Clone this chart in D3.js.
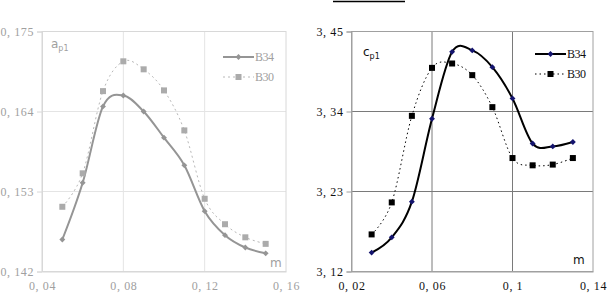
<!DOCTYPE html>
<html>
<head>
<meta charset="utf-8">
<script src="https://cdn.jsdelivr.net/npm/d3@7"></script>
<style>
  body { margin: 0; background: #fff; }
  svg { display: block; }
  .serif { font-family: "Liberation Serif", "DejaVu Serif", serif; }
  .sans { font-family: "DejaVu Sans", sans-serif; }
</style>
</head>
<body>
<script>
"use strict";

// m values shared by both panels
const mLeft = [0.05, 0.06, 0.07, 0.08, 0.09, 0.10, 0.11, 0.12, 0.13, 0.14, 0.15];
const mRight = [0.03, 0.04, 0.05, 0.06, 0.07, 0.08, 0.09, 0.10, 0.11, 0.12, 0.13];

// a_p1 (left panel)
const aB34 = [0.1464, 0.1542, 0.1647, 0.1662, 0.1640, 0.1604, 0.1566, 0.1503, 0.1470, 0.1453, 0.1445];
const aB30 = [0.1509, 0.1555, 0.1668, 0.1709, 0.1698, 0.1669, 0.1614, 0.1520, 0.1485, 0.1467, 0.1458];

// c_p1 (right panel)
const cB34 = [3.146, 3.167, 3.216, 3.330, 3.422, 3.424, 3.401, 3.358, 3.296, 3.292, 3.298];
const cB30 = [3.171, 3.215, 3.334, 3.400, 3.406, 3.390, 3.346, 3.276, 3.266, 3.267, 3.276];

const leftXTicks = [0.04, 0.08, 0.12, 0.16];
const leftYTicks = [0.142, 0.153, 0.164, 0.175];
const rightXTicks = [0.02, 0.06, 0.1, 0.14];
const rightYTicks = [3.12, 3.23, 3.34, 3.45];
const seriesNames = ["B34", "B30"];

const svg = d3.select("body").append("svg")
  .attr("width", 609)
  .attr("height", 296);

// the comma-decimal style used on the axes: "0, 175"
const commaFmt = (v) => String(+v.toFixed(3)).replace(".", ", ");

function drawPanel(opts) {
  const { x0, x1, y0, y1, xDomain, yDomain, xTicks, yTicks, xs, series, theme } = opts;

  const x = d3.scaleLinear().domain(xDomain).range([x0, x1]);
  const y = d3.scaleLinear().domain(yDomain).range([y1, y0]);
  const g = svg.append("g");

  // grid
  g.selectAll(".vgrid")
    .data(xTicks.slice(1, -1))
    .enter().append("line")
      .attr("x1", (d) => x(d)).attr("x2", (d) => x(d))
      .attr("y1", y0).attr("y2", y1)
      .attr("stroke", theme.grid).attr("stroke-width", 1);
  g.selectAll(".hgrid")
    .data(yTicks.slice(1, -1))
    .enter().append("line")
      .attr("x1", x0).attr("x2", x1)
      .attr("y1", (d) => y(d)).attr("y2", (d) => y(d))
      .attr("stroke", theme.grid).attr("stroke-width", 1);

  // frame
  g.append("rect")
    .attr("x", x0).attr("y", y0)
    .attr("width", x1 - x0).attr("height", y1 - y0)
    .attr("fill", "none")
    .attr("stroke", theme.frame);

  // axes, with the little outer ticks
  const yAxis = d3.axisLeft(y).tickValues(yTicks).tickFormat(commaFmt).tickSize(5).tickPadding(3);
  const xAxis = d3.axisBottom(x).tickValues(xTicks).tickFormat(commaFmt).tickSize(0).tickPadding(10);

  const ya = g.append("g").attr("transform", `translate(${x0},0)`).call(yAxis);
  const xa = g.append("g").attr("transform", `translate(0,${y1})`).call(xAxis);
  [ya, xa].forEach((a) => {
    a.attr("font-family", null).attr("font-size", null);
    a.select(".domain").attr("stroke", theme.frame);
    a.selectAll(".tick line").attr("stroke", theme.frame);
    a.selectAll("text")
      .attr("class", "serif")
      .attr("fill", theme.text)
      .attr("font-size", 12)
      .attr("letter-spacing", 0.6);
  });
  ya.selectAll("text").attr("dy", "0.35em");

  const line = d3.line()
    .x((d) => x(d[0]))
    .y((d) => y(d[1]))
    .curve(d3.curveCardinal.tension(0));

  series.forEach((s) => {
    const pts = xs.map((m, i) => [m, s.values[i]]);
    g.append("path")
      .datum(pts)
      .attr("d", line)
      .attr("fill", "none")
      .attr("stroke", s.stroke)
      .attr("stroke-width", s.width)
      .attr("stroke-dasharray", s.dash);

    drawMarkers(g, pts.map((p) => [x(p[0]), y(p[1])]), s);
  });

  // legend
  series.forEach((s, i) => {
    const ly = opts.legendY + i * 20;
    g.append("line")
      .attr("x1", opts.legendX).attr("x2", opts.legendX + 31)
      .attr("y1", ly).attr("y2", ly)
      .attr("stroke", s.stroke)
      .attr("stroke-width", s.width)
      .attr("stroke-dasharray", s.dash);
    drawMarkers(g, [[opts.legendX + 15.5, ly]], s);
    g.append("text")
      .attr("class", "serif")
      .attr("x", opts.legendX + 32).attr("y", ly)
      .attr("dy", "0.35em")
      .attr("fill", theme.text)
      .attr("font-size", 12)
      .attr("letter-spacing", -0.5)
      .text(s.name);
  });

  // axis labels inside the plot
  const lab = g.append("text")
    .attr("class", "sans")
    .attr("x", opts.labelX).attr("y", opts.labelY)
    .attr("fill", theme.label)
    .attr("font-size", 12);
  lab.append("tspan").text(opts.label);
  lab.append("tspan").attr("dy", 3).attr("font-size", 8).text("p1");

  g.append("text")
    .attr("class", "sans")
    .attr("x", opts.mX).attr("y", opts.mY)
    .attr("fill", theme.label)
    .attr("font-size", 12)
    .text("m");
}

function drawMarkers(g, pts, s) {
  if (s.marker === "diamond") {
    g.selectAll(null)
      .data(pts)
      .enter().append("path")
        .attr("d", d3.symbol(d3.symbolDiamond2, 22)())
        .attr("transform", (d) => `translate(${d[0]},${d[1]})`)
        .attr("fill", s.markerFill);
  } else {
    g.selectAll(null)
      .data(pts)
      .enter().append("rect")
        .attr("x", (d) => d[0] - 3).attr("y", (d) => d[1] - 3)
        .attr("width", 6).attr("height", 6)
        .attr("fill", s.markerFill);
  }
}

drawPanel({
  x0: 42, x1: 286, y0: 31.5, y1: 271.5,
  xDomain: [0.04, 0.16], yDomain: [0.142, 0.175],
  xTicks: leftXTicks, yTicks: leftYTicks, xs: mLeft,
  theme: { grid: "#e4e4e4", frame: "#d8d8d8", text: "#a0a0a0", label: "#a0a0a0" },
  series: [
    { name: seriesNames[0], values: aB34, stroke: "#959595", width: 2, dash: null,
      marker: "diamond", markerFill: "#959595" },
    { name: seriesNames[1], values: aB30, stroke: "#b8b8b8", width: 1, dash: "2,3",
      marker: "square", markerFill: "#ababab" }
  ],
  legendX: 223, legendY: 57,
  label: "a", labelX: 51, labelY: 48,
  mX: 270, mY: 267
});

drawPanel({
  x0: 351.5, x1: 593, y0: 31.5, y1: 271.5,
  xDomain: [0.02, 0.14], yDomain: [3.12, 3.45],
  xTicks: rightXTicks, yTicks: rightYTicks, xs: mRight,
  theme: { grid: "#7a7a7a", frame: "#a0a0a0", text: "#111", label: "#111" },
  series: [
    { name: seriesNames[0], values: cB34, stroke: "#000", width: 2, dash: null,
      marker: "diamond", markerFill: "#14146e" },
    { name: seriesNames[1], values: cB30, stroke: "#000", width: 1, dash: "1.5,3",
      marker: "square", markerFill: "#000" }
  ],
  legendX: 535, legendY: 54,
  label: "c", labelX: 363, labelY: 56,
  mX: 573, mY: 264
});

// short rule above the right panel
svg.append("line")
  .attr("x1", 333).attr("x2", 405)
  .attr("y1", 1.5).attr("y2", 1.5)
  .attr("stroke", "#000").attr("stroke-width", 1.5);
</script>
</body>
</html>
